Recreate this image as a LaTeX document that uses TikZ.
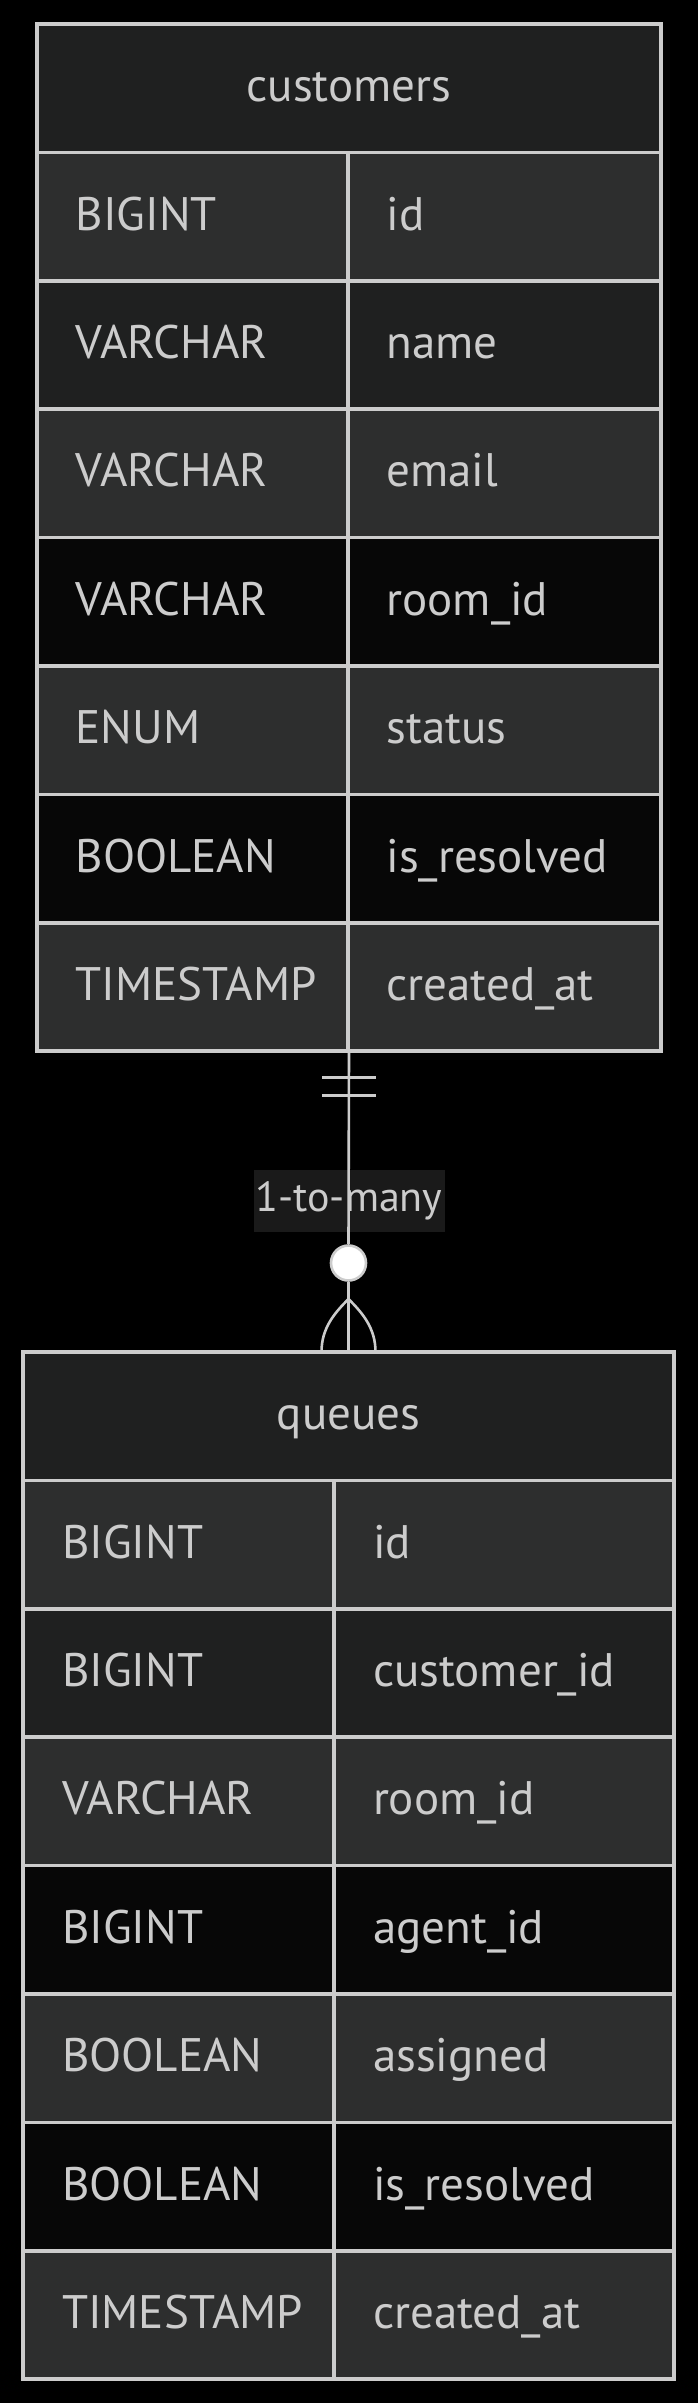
\documentclass[tikz,border=0pt]{standalone}
\usepackage{fontspec}
\setmainfont{PT Sans}
\definecolor{bord}{HTML}{CCCCCC}
\definecolor{txtc}{HTML}{CCCCCC}
\definecolor{hdr}{HTML}{1F2020}
\definecolor{rowA}{HTML}{2D2E2E}
\definecolor{rowB}{HTML}{1F2020}
\definecolor{rowC}{HTML}{070707}
\definecolor{lblbg}{HTML}{1A1A1A}
\tikzset{
  cell/.style={draw=bord, line width=3.5pt, inner sep=0pt, outer sep=0pt, anchor=north west, minimum height=128.4pt},
  frame/.style={draw=bord, line width=3.5pt, inner sep=0pt, outer sep=0pt, anchor=north west},
  txt/.style={text=txtc, font=\fontsize{47}{56}\selectfont, inner sep=0pt, outer sep=0pt, anchor=base west},
  ttl/.style={txt, anchor=base},
  conn/.style={draw=bord, line width=2.6pt},
  lbl/.style={fill=lblbg, text=txtc, font=\fontsize{42}{50}\selectfont, inner sep=0pt, minimum width=191pt, minimum height=62pt},
  zero/.style={circle, fill=white, draw=bord, line width=2.6pt, minimum size=35pt, inner sep=0pt}
}
\begin{document}
\begin{tikzpicture}[x=1pt,y=-1pt]
\fill[black] (0,0) rectangle (698,2403);
\useasboundingbox (0,0) rectangle (698,2403);

% ---------- customers ----------
\node[cell, fill=hdr, minimum width=624pt] (custhead) at (37,24) {};
\node[ttl] (custtitle) at (349,101.7) {customers};
\foreach \i/\ty/\nm/\col in {1/BIGINT/id/rowA, 2/VARCHAR/name/rowB, 3/VARCHAR/email/rowA, 4/VARCHAR/room\_id/rowC, 5/ENUM/status/rowA, 6/BOOLEAN/is\_resolved/rowC, 7/TIMESTAMP/created\_at/rowA}{
  \pgfmathsetmacro\yy{24+128.4*\i}
  \node[cell, fill=\col, minimum width=311pt] (custtype\i) at (37,\yy) {};
  \node[cell, fill=\col, minimum width=313pt] (custname\i) at (348,\yy) {};
  \node[txt] (custtypetxt\i) at (75.7,\yy+77.6) {\ty};
  \node[txt] (custnametxt\i) at (386.5,\yy+77.6) {\nm};
}
\node[frame, minimum width=624pt, minimum height=1027.2pt] (cust) at (37,24) {};

% ---------- queues ----------
\node[cell, fill=hdr, minimum width=651pt] (queuehead) at (23,1352) {};
\node[ttl] (queuetitle) at (348.5,1429.7) {queues};
\foreach \i/\ty/\nm/\col in {1/BIGINT/id/rowA, 2/BIGINT/customer\_id/rowB, 3/VARCHAR/room\_id/rowA, 4/BIGINT/agent\_id/rowC, 5/BOOLEAN/assigned/rowA, 6/BOOLEAN/is\_resolved/rowC, 7/TIMESTAMP/created\_at/rowA}{
  \pgfmathsetmacro\yy{1352+128.4*\i}
  \node[cell, fill=\col, minimum width=311pt] (queuetype\i) at (23,\yy) {};
  \node[cell, fill=\col, minimum width=340pt] (queuename\i) at (334,\yy) {};
  \node[txt] (queuetypetxt\i) at (62,\yy+77.6) {\ty};
  \node[txt] (queuenametxt\i) at (373,\yy+77.6) {\nm};
}
\node[frame, minimum width=651pt, minimum height=1027.2pt] (queues) at (23,1352) {};

% ---------- relationship ----------
\node[lbl] (rel) at (349,1201) {1-to-many};
\node[zero] (zm) at ([yshift=89pt]queues.north) {};
\coordinate (apex) at ([yshift=53pt]queues.north);
\coordinate (footL) at ([xshift=-27pt]queues.north);
\coordinate (footR) at ([xshift=27pt]queues.north);
\draw[conn] (cust.south) -- (zm.north);
\draw[conn] (zm.south) -- (queues.north);
\draw[conn] ([xshift=-27pt,yshift=-26pt]cust.south) -- ([xshift=27pt,yshift=-26pt]cust.south);
\draw[conn] ([xshift=-27pt,yshift=-44pt]cust.south) -- ([xshift=27pt,yshift=-44pt]cust.south);
\draw[conn] (apex) .. controls ([shift={(-14pt,-14pt)}]apex) and ([yshift=24pt]footL) .. (footL);
\draw[conn] (apex) .. controls ([shift={(14pt,-14pt)}]apex) and ([yshift=24pt]footR) .. (footR);
\end{tikzpicture}
\end{document}
